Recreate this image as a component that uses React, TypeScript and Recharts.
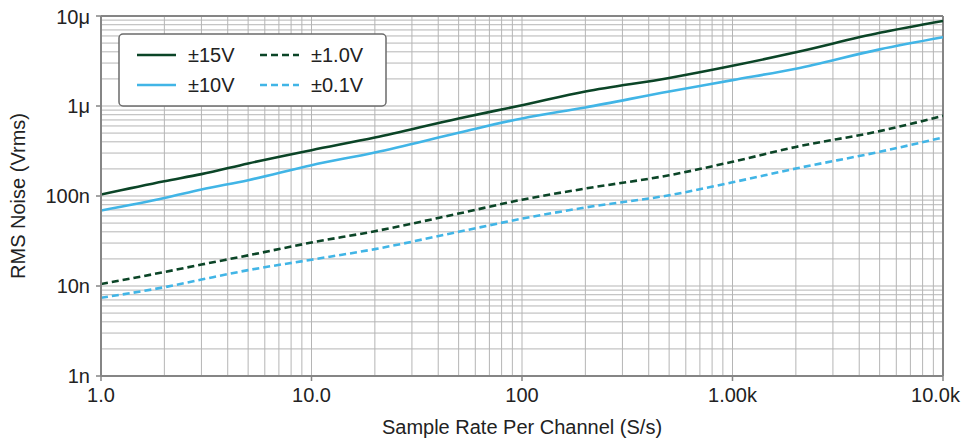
import React from 'react';
import { LineChart, Line, XAxis, YAxis, ReferenceLine, Legend } from 'recharts';

// ---- data ----
const sampleRate = [1, 2, 3, 5, 10, 20, 50, 100, 200, 500, 1000, 2000, 5000, 10000];
const noise15V = [1.04e-7, 1.46e-7, 1.75e-7, 2.3e-7, 3.23e-7, 4.47e-7, 7.28e-7, 1.02e-6, 1.45e-6, 2.05e-6, 2.8e-6, 3.95e-6, 6.5e-6, 8.8e-6];
const noise10V = [6.9e-8, 9.5e-8, 1.18e-7, 1.5e-7, 2.2e-7, 3.05e-7, 5.04e-7, 7.28e-7, 9.64e-7, 1.45e-6, 1.94e-6, 2.6e-6, 4.26e-6, 5.8e-6];
const noise1V = [1.05e-8, 1.43e-8, 1.73e-8, 2.19e-8, 3.04e-8, 4.06e-8, 6.38e-8, 9.1e-8, 1.21e-7, 1.7e-7, 2.4e-7, 3.51e-7, 5.26e-7, 7.78e-7];
const noise01V = [7.4e-9, 9.7e-9, 1.18e-8, 1.5e-8, 1.96e-8, 2.57e-8, 4.0e-8, 5.6e-8, 7.45e-8, 1.02e-7, 1.42e-7, 2.02e-7, 3.1e-7, 4.47e-7];

const seriesNames = ['±15V', '±10V', '±1.0V', '±0.1V'];
const seriesKeys = ['v15', 'v10', 'v1', 'v01'];
const seriesValues = [noise15V, noise10V, noise1V, noise01V];

const xTicks = [1, 10, 100, 1000, 10000];
const xTickLabels = ['1.0', '10.0', '100', '1.00k', '10.0k'];
const yTicks = [1e-9, 1e-8, 1e-7, 1e-6, 1e-5];
const yTickLabels = ['1n', '10n', '100n', '1μ', '10μ'];

const xTitle = 'Sample Rate Per Channel (S/s)';
const yTitle = 'RMS Noise (Vrms)';

// ---- styles ----
const DARK = '#0b4527';
const LIGHT = '#41b5e6';
const seriesColors = [DARK, LIGHT, DARK, LIGHT];
const seriesDash: (string | undefined)[] = [undefined, undefined, '7 4', '7 4'];
const GRID = '#b5b5b5';
const FRAME = '#858585';
const TEXT = '#222';
const FONT = 'Liberation Sans, Arial, sans-serif';
const FS = 20;

const data = sampleRate.map((x, i) => {
  const row: Record<string, number> = { x };
  seriesKeys.forEach((k, s) => { row[k] = seriesValues[s][i]; });
  return row;
});

// log grid positions (minor + major)
const xGrid: number[] = [];
for (let d = 1; d < 10000; d *= 10) for (let m = 1; m < 10; m++) xGrid.push(d * m);
const yGrid: number[] = [];
for (let e = -9; e < -5; e++) for (let m = 1; m < 10; m++) yGrid.push(m * Math.pow(10, e));

const nearestIndex = (ticks: number[], v: number) => {
  let best = 0;
  ticks.forEach((t, i) => {
    if (Math.abs(Math.log10(t) - Math.log10(v)) < Math.abs(Math.log10(ticks[best]) - Math.log10(v))) best = i;
  });
  return best;
};

const XTick = (props: any) => {
  const { x, y, payload } = props;
  const idx = nearestIndex(xTicks, payload.value);
  const isLast = idx === xTicks.length - 1;
  return (
    <text
      x={isLast ? x + 17 : x}
      y={y}
      dy="0.71em"
      textAnchor={isLast ? 'end' : 'middle'}
      fontSize={FS}
      fontFamily={FONT}
      fill={TEXT}
    >
      {xTickLabels[idx]}
    </text>
  );
};

const YTick = (props: any) => {
  const { x, y, payload } = props;
  const idx = nearestIndex(yTicks, payload.value);
  const isTop = idx === yTicks.length - 1;
  return (
    <text
      x={x}
      y={isTop ? y + 1 : y}
      dy="0.355em"
      textAnchor="end"
      fontSize={FS}
      fontFamily={FONT}
      fill={TEXT}
    >
      {yTickLabels[idx]}
    </text>
  );
};

const LegendBox = () => {
  const w = 269;
  const h = 74;
  return (
    <svg width={w} height={h} style={{ display: 'block' }}>
      <rect x={1} y={1} width={w - 2} height={h - 2} rx={4} ry={4} fill="#fff" stroke="#6b6b6b" strokeWidth={1.5} />
      {seriesNames.map((name, i) => {
        const col = Math.floor(i / 2);
        const row = i % 2;
        const lx = 19 + col * 123;
        const ly = 22 + row * 30;
        return (
          <g key={name}>
            <line x1={lx} x2={lx + 39} y1={ly} y2={ly} stroke={seriesColors[i]} strokeWidth={2.6} strokeDasharray={seriesDash[i]} />
            <text x={lx + 51} y={ly} dy="0.35em" fontSize={FS} fontFamily={FONT} fill={TEXT}>{name}</text>
          </g>
        );
      })}
    </svg>
  );
};

export default function App() {
  return (
    <div style={{ width: 961, height: 434 }}>
      <style>{'.recharts-surface{overflow:visible}'}</style>
      <LineChart
        width={961}
        height={434}
        data={data}
        margin={{ top: 8, right: 26, left: 5, bottom: 0 }}
        style={{ fontFamily: FONT }}
      >
        {xGrid.map((v) => (
          <ReferenceLine key={'gx' + v} x={v} stroke={GRID} strokeWidth={1} />
        ))}
        {yGrid.map((v) => (
          <ReferenceLine key={'gy' + v} y={v} stroke={GRID} strokeWidth={1} />
        ))}
        <ReferenceLine x={10000} stroke={FRAME} strokeWidth={2} />
        <ReferenceLine y={1e-5} stroke={FRAME} strokeWidth={2} />
        <XAxis
          dataKey="x"
          type="number"
          scale="log"
          domain={[1, 10000]}
          ticks={xTicks}
          interval={0}
          allowDataOverflow
          tick={<XTick />}
          tickLine={{ stroke: FRAME, strokeWidth: 1.5 }}
          axisLine={{ stroke: FRAME, strokeWidth: 2 }}
          tickSize={5}
          tickMargin={7}
          height={66}
          label={{ value: xTitle, position: 'insideBottom', offset: 8, fontSize: FS, fill: TEXT, fontFamily: FONT }}
        />
        <YAxis
          type="number"
          scale="log"
          domain={[1e-9, 1e-5]}
          ticks={yTicks}
          interval={0}
          allowDataOverflow
          tick={<YTick />}
          tickLine={{ stroke: FRAME, strokeWidth: 1.5 }}
          axisLine={{ stroke: FRAME, strokeWidth: 2 }}
          tickSize={5}
          tickMargin={6}
          width={88}
          label={{ value: yTitle, angle: -90, position: 'insideLeft', offset: 5, fontSize: FS, fill: TEXT, fontFamily: FONT, style: { textAnchor: 'middle' } }}
        />
        {seriesKeys.map((k, i) => (
          <Line
            key={k}
            dataKey={k}
            name={seriesNames[i]}
            type="monotone"
            stroke={seriesColors[i]}
            strokeWidth={2.6}
            strokeDasharray={seriesDash[i]}
            dot={false}
            activeDot={false}
            isAnimationActive={false}
          />
        ))}
        <Legend
          layout="vertical"
          align="center"
          verticalAlign="middle"
          content={() => <LegendBox />}
          wrapperStyle={{ position: 'absolute', left: 110, top: 25, width: 269, height: 74 }}
        />
      </LineChart>
    </div>
  );
}
